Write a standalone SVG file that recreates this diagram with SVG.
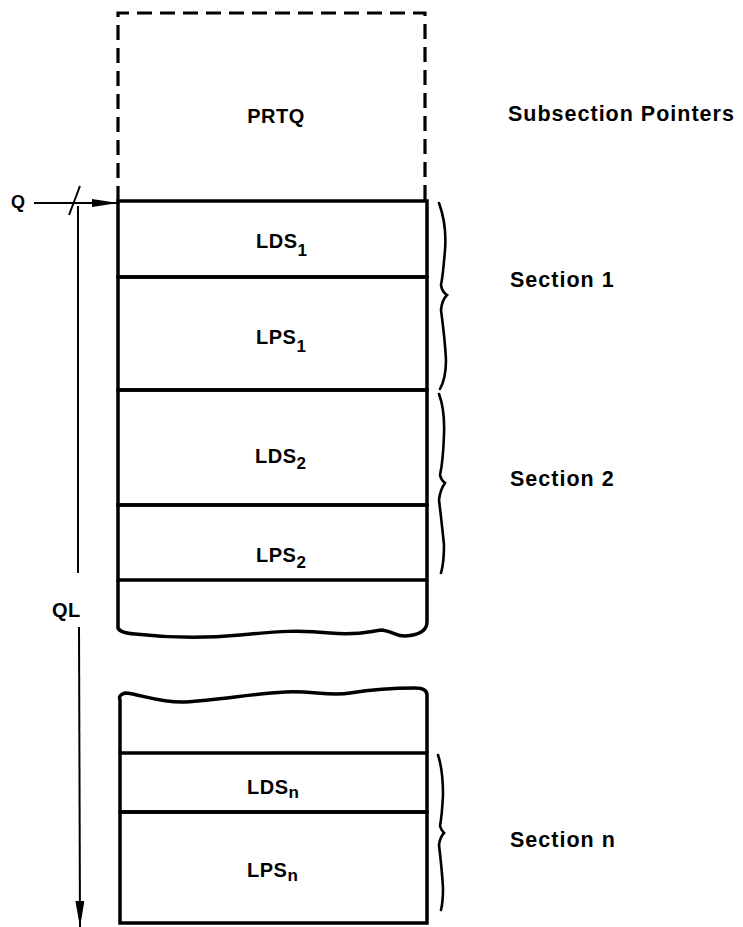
<svg xmlns="http://www.w3.org/2000/svg" width="743" height="927" viewBox="0 0 743 927">
<style>
.cell{fill:none;stroke:#000;stroke-width:3.5}
.dash{fill:none;stroke:#000;stroke-width:3.2;stroke-dasharray:15 8}
.lbl{font-family:"Liberation Sans",Arial,sans-serif;font-weight:bold;font-size:20px;letter-spacing:0.5px;fill:#000}
.sec{font-family:"Liberation Sans",Arial,sans-serif;font-weight:bold;font-size:21.5px;letter-spacing:1px;fill:#000}
.sub{font-size:17px}
.line{fill:none;stroke:#000;stroke-width:2}
.brace{fill:none;stroke:#000;stroke-width:2.6;stroke-linecap:round}
</style>
<defs>
<marker id="ahH" markerUnits="userSpaceOnUse" markerWidth="26" markerHeight="10" refX="26" refY="4" orient="auto">
<path d="M0,0 L26,4 L0,8 z" fill="#000"/>
</marker>
<marker id="ahV" markerUnits="userSpaceOnUse" markerWidth="26" markerHeight="10" refX="26" refY="4.5" orient="auto">
<path d="M0,0 L26,4.5 L0,9 z" fill="#000"/>
</marker>
</defs>

<g id="prtq">
<path class="dash" d="M118,201 V13 H425 V201"/>
<text class="lbl" x="276" y="123" text-anchor="middle">PRTQ</text>
</g>

<g id="lds1">
<rect class="cell" x="118" y="201" width="309" height="76"/>
<text class="lbl" x="256" y="248">LDS<tspan class="sub" dy="8">1</tspan></text>
</g>
<g id="lps1">
<rect class="cell" x="118" y="277" width="309" height="113"/>
<text class="lbl" x="256" y="344">LPS<tspan class="sub" dy="8">1</tspan></text>
</g>
<g id="lds2">
<rect class="cell" x="118" y="390" width="309" height="115"/>
<text class="lbl" x="255" y="463">LDS<tspan class="sub" dy="6">2</tspan></text>
</g>
<g id="lps2">
<rect class="cell" x="118" y="505" width="309" height="75"/>
<text class="lbl" x="256" y="562">LPS<tspan class="sub" dy="6">2</tspan></text>
</g>
<g id="gap-top">
<path class="cell" d="M118,580 V628 Q120,633 135,634 C170,638 200,639 240,635 C280,631 300,630 330,633 C360,636 370,631 382,630 C395,632 395,636 405,636 C420,635 427,630 427,622 V580"/>
</g>
<g id="gap-bottom">
<path class="cell" d="M120,753 V700 Q118,695 125,693 C140,694 160,703 185,702 C220,700 250,694 285,692 C310,690 330,697 350,693 C375,689 395,688 415,688 Q427,688 427,695 V753"/>
</g>
<g id="ldsn">
<rect class="cell" x="120" y="753" width="307" height="59"/>
<text class="lbl" x="247" y="794">LDS<tspan class="sub" dy="4">n</tspan></text>
</g>
<g id="lpsn">
<rect class="cell" x="120" y="812" width="307" height="111"/>
<text class="lbl" x="247" y="877">LPS<tspan class="sub" dy="4">n</tspan></text>
</g>

<g id="labels">
<text class="sec" x="508" y="121" style="letter-spacing:1px">Subsection Pointers</text>
<text class="sec" x="510" y="287">Section 1</text>
<text class="sec" x="510" y="486">Section 2</text>
<text class="sec" x="510" y="847">Section n</text>
<text class="lbl" x="11" y="208" style="font-size:18px">Q</text>
<text class="lbl" x="52" y="617">QL</text>
</g>

<g id="connectors">
<line class="line" x1="34" y1="203" x2="118" y2="203" marker-end="url(#ahH)"/>
<line class="line" x1="69" y1="215" x2="80" y2="186"/>
<line class="line" x1="78" y1="206" x2="78" y2="573"/>
<line class="line" x1="79" y1="627" x2="80" y2="927" marker-end="url(#ahV)"/>
<path class="brace" d="M439,203 Q447,225 445,250 Q443,275 441,285 Q442,292 447,295 Q442,300 441,310 Q445,340 446,360 Q446,378 440,389"/>
<path class="brace" d="M439,394 Q445,410 444,435 Q443,462 440,475 Q441,480 445,483 Q440,490 439,500 Q442,525 444,545 Q444,563 441,573"/>
<path class="brace" d="M438,755 Q443,770 443,795 Q442,815 440,826 Q441,830 444,833 Q440,837 439,845 Q442,870 443,888 Q443,902 441,910"/>
</g>
</svg>
